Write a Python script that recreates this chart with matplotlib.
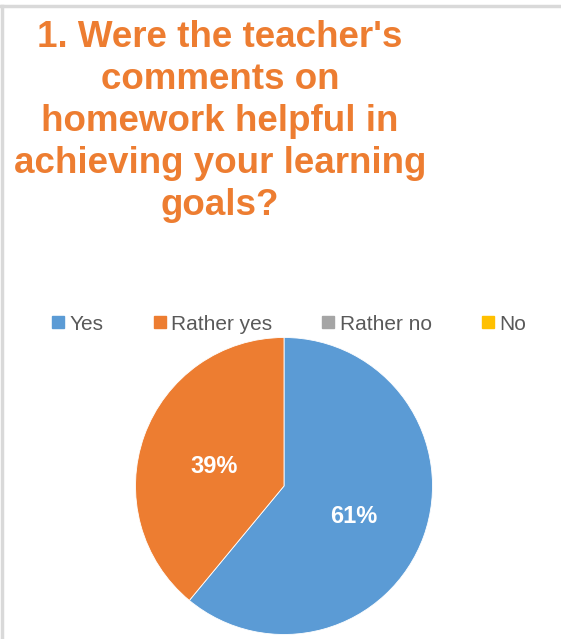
import matplotlib.pyplot as plt
from matplotlib.lines import Line2D

plt.rcParams['font.family'] = ['Liberation Sans', 'DejaVu Sans']

# Dados
categorias = ['Yes', 'Rather yes', 'Rather no', 'No']
valores = [61, 39, 0, 0]
cores = ['#5B9BD5', '#ED7D31', '#A5A5A5', '#FFC000']
titulo = "1. Were the teacher's\ncomments on\nhomework helpful in\nachieving your learning\ngoals?"

W, H = 561, 639
fig = plt.figure(figsize=(W / 100, H / 100), dpi=100)

# borda cinza clara (topo e esquerda)
fig.add_artist(Line2D([0, 1], [1 - 6 / H, 1 - 6 / H], color='#D9D9D9', lw=2.5))
fig.add_artist(Line2D([1.5 / W, 1.5 / W], [0, 1 - 6 / H], color='#D9D9D9', lw=2.5))

# Título
fig.text(220 / W, 1 - 20 / H, titulo, ha='center', va='top', fontsize=26.5,
         fontweight='bold', color='#ED7D31', linespacing=1.26)

# Pizza
cx, cy, r = 284, 486, 148.5
ax = fig.add_axes([(cx - r) / W, (H - cy - r) / H, 2 * r / W, 2 * r / H])
fatias = [v for v in valores if v > 0]
cores_fatias = [c for v, c in zip(valores, cores) if v > 0]
wedges, textos, autotextos = ax.pie(fatias, colors=cores_fatias, startangle=90,
                                    counterclock=False, autopct='%1.0f%%',
                                    pctdistance=0.5,
                                    wedgeprops=dict(linewidth=0.6, edgecolor='white'),
                                    textprops=dict(color='white', fontsize=17,
                                                   fontweight='bold'))
for t in autotextos:
    t.set_va('center_baseline')
    x, y = t.get_position()
    t.set_position((x, y - 0.02))
ax.set_xlim(-1, 1)
ax.set_ylim(-1, 1)
ax.set_aspect('equal')
ax.axis('off')

# Legenda
handles = [Line2D([], [], marker='s', linestyle='none', markersize=8.5,
                  markerfacecolor=c, markeredgecolor=c) for c in cores]
leg = fig.legend(handles, categorias, loc='center', bbox_to_anchor=(289 / W, 1 - 324 / H),
                 ncol=4, frameon=False, fontsize=15, handlelength=0.6,
                 handletextpad=0.25, columnspacing=2.4, labelcolor='#595959')

plt.savefig('out.png', dpi=100, facecolor='white')
